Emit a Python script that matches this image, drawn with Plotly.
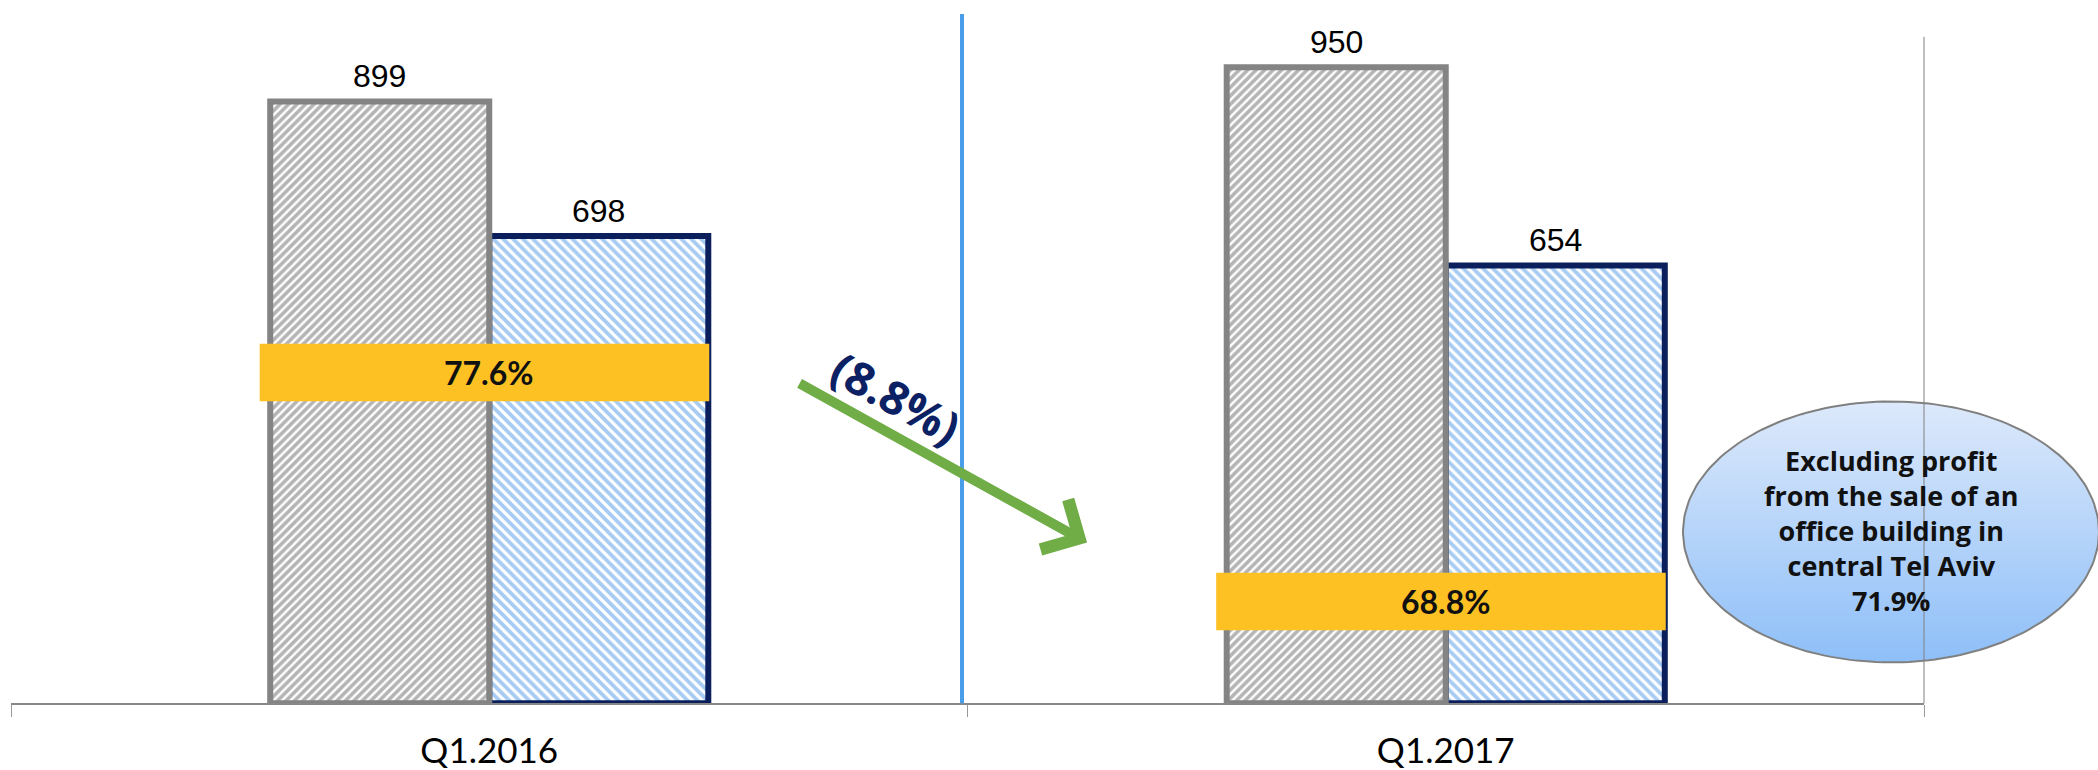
import plotly.graph_objects as go
import numpy as np

# ---------------- data ----------------
categories = ["Q1.2016", "Q1.2017"]
series_a = [899, 950]          # gray bars
series_b = [698, 654]          # blue bars
ratio_labels = ["77.6%", "68.8%"]
change_label = "(8.8%)"
note_lines = ["Excluding profit", "from the sale of an", "office building in",
              "central Tel Aviv", "71.9%"]

# ---------------- layout constants ----------------
W, H = 2098, 770
PL, PR, PT, PB = 11, 1924, 34, 706      # plot area in pixels
YMAX = 1000
BAR_W = 0.229
band_centers = [494, 152]               # y (value units) of ratio bands
band_half = 43
band_x = (-0.24, 0.23)

fig = go.Figure()

# blue series first so the gray border covers the shared edge
fig.add_trace(go.Bar(
    x=categories, y=series_b, offset=0, width=BAR_W,
    marker=dict(color="white",
                line=dict(color="#0b1f5c", width=6),
                pattern=dict(shape="\\", fgcolor="#4f98e6", bgcolor="white",
                             size=7, solidity=0.55)),
    xaxis="x", yaxis="y", hoverinfo="skip",
))
fig.add_trace(go.Bar(
    x=categories, y=series_a, offset=-BAR_W, width=BAR_W,
    marker=dict(color="white",
                line=dict(color="#848484", width=6),
                pattern=dict(shape="/", fgcolor="#6a6a6a", bgcolor="white",
                             size=6, solidity=0.6)),
    xaxis="x", yaxis="y", hoverinfo="skip",
))

shapes = []
annotations = []

# value labels
for i, (a, b) in enumerate(zip(series_a, series_b)):
    annotations.append(dict(x=i - BAR_W / 2, y=a, xref="x", yref="y", text=str(a),
                            showarrow=False, yanchor="middle", yshift=25,
                            font=dict(family="Liberation Sans, Arial", size=32, color="black")))
    annotations.append(dict(x=i + BAR_W / 2, y=b, xref="x", yref="y", text=str(b),
                            showarrow=False, yanchor="middle", yshift=25,
                            font=dict(family="Liberation Sans, Arial", size=32, color="black")))

# ratio bands
for i, (lab, yc) in enumerate(zip(ratio_labels, band_centers)):
    shapes.append(dict(type="rect", xref="x", yref="y",
                       x0=i + band_x[0], x1=i + band_x[1],
                       y0=yc - band_half, y1=yc + band_half,
                       fillcolor="#fec123", line=dict(width=0), layer="above"))
    annotations.append(dict(x=i, y=yc, xref="x", yref="y", text=f"<b>{lab}</b>",
                            showarrow=False, yanchor="middle", xanchor="center",
                            font=dict(family="Lato", size=32, color="#111111")))

# divider line (blue) and right boundary line (gray), in pixel coordinates
shapes.append(dict(type="line", xref="x2", yref="y2", x0=962, x1=962,
                   y0=H - 14, y1=H - PB, line=dict(color="#4a9de8", width=4), layer="above"))
shapes.append(dict(type="line", xref="x2", yref="y2", x0=1924, x1=1924,
                   y0=H - 37, y1=H - PB, line=dict(color="#808080", width=1), layer="above"))

# green arrow
annotations.append(dict(x=0.625, y=240, xref="x", yref="y", text="",
                        showarrow=True, ax=-289, ay=-160, axref="pixel", ayref="pixel",
                        arrowhead=4, arrowsize=1.1, arrowwidth=10, arrowcolor="#70ad47"))
# change label
annotations.append(dict(x=0.425, y=457, xref="x", yref="y",
                        text=f"<b>{change_label}</b>", showarrow=False, textangle=29,
                        font=dict(family="Open Sans", size=46, color="#0b2163")))

# ellipse callout (gradient fill)
cx, cy, rx, ry = 1891, H - 534, 208, 131
t = np.linspace(0, 2 * np.pi, 200)
fig.add_trace(go.Scatter(
    x=cx + rx * np.cos(t), y=cy + ry * np.sin(t), mode="lines",
    fill="toself", line=dict(color="#808080", width=2),
    fillgradient=dict(type="vertical",
                      colorscale=[[0, "#8ebff8"], [1, "#dde9fb"]]),
    xaxis="x2", yaxis="y2", hoverinfo="skip",
))
annotations.append(dict(x=cx, y=H - 533, xref="x2", yref="y2",
                        text="<b>" + "<br>".join(note_lines) + "</b>",
                        showarrow=False, align="center",
                        font=dict(family="Open Sans", size=27, color="#111111")))

fig.update_layout(
    width=W, height=H,
    margin=dict(l=0, r=0, t=0, b=0),
    paper_bgcolor="white", plot_bgcolor="rgba(0,0,0,0)",
    showlegend=False, barmode="overlay",
    xaxis=dict(domain=[PL / W, PR / W], type="category", range=[-0.5, 1.5],
               showline=True, linecolor="#888888", linewidth=2,
               ticks="outside", tickson="boundaries", ticklen=12, tickwidth=1,
               tickcolor="#999999", showgrid=False, zeroline=False,
               ticklabelstandoff=16,
               tickfont=dict(family="Lato", size=35, color="black"),
               anchor="y"),
    yaxis=dict(domain=[(H - PB) / H, (H - PT) / H], range=[0, YMAX],
               visible=False, anchor="x"),
    xaxis2=dict(domain=[0, 1], range=[0, W], visible=False, anchor="y2"),
    yaxis2=dict(domain=[0, 1], range=[0, H], visible=False, anchor="x2"),
    shapes=shapes, annotations=annotations,
)

fig.write_html("out.html")
